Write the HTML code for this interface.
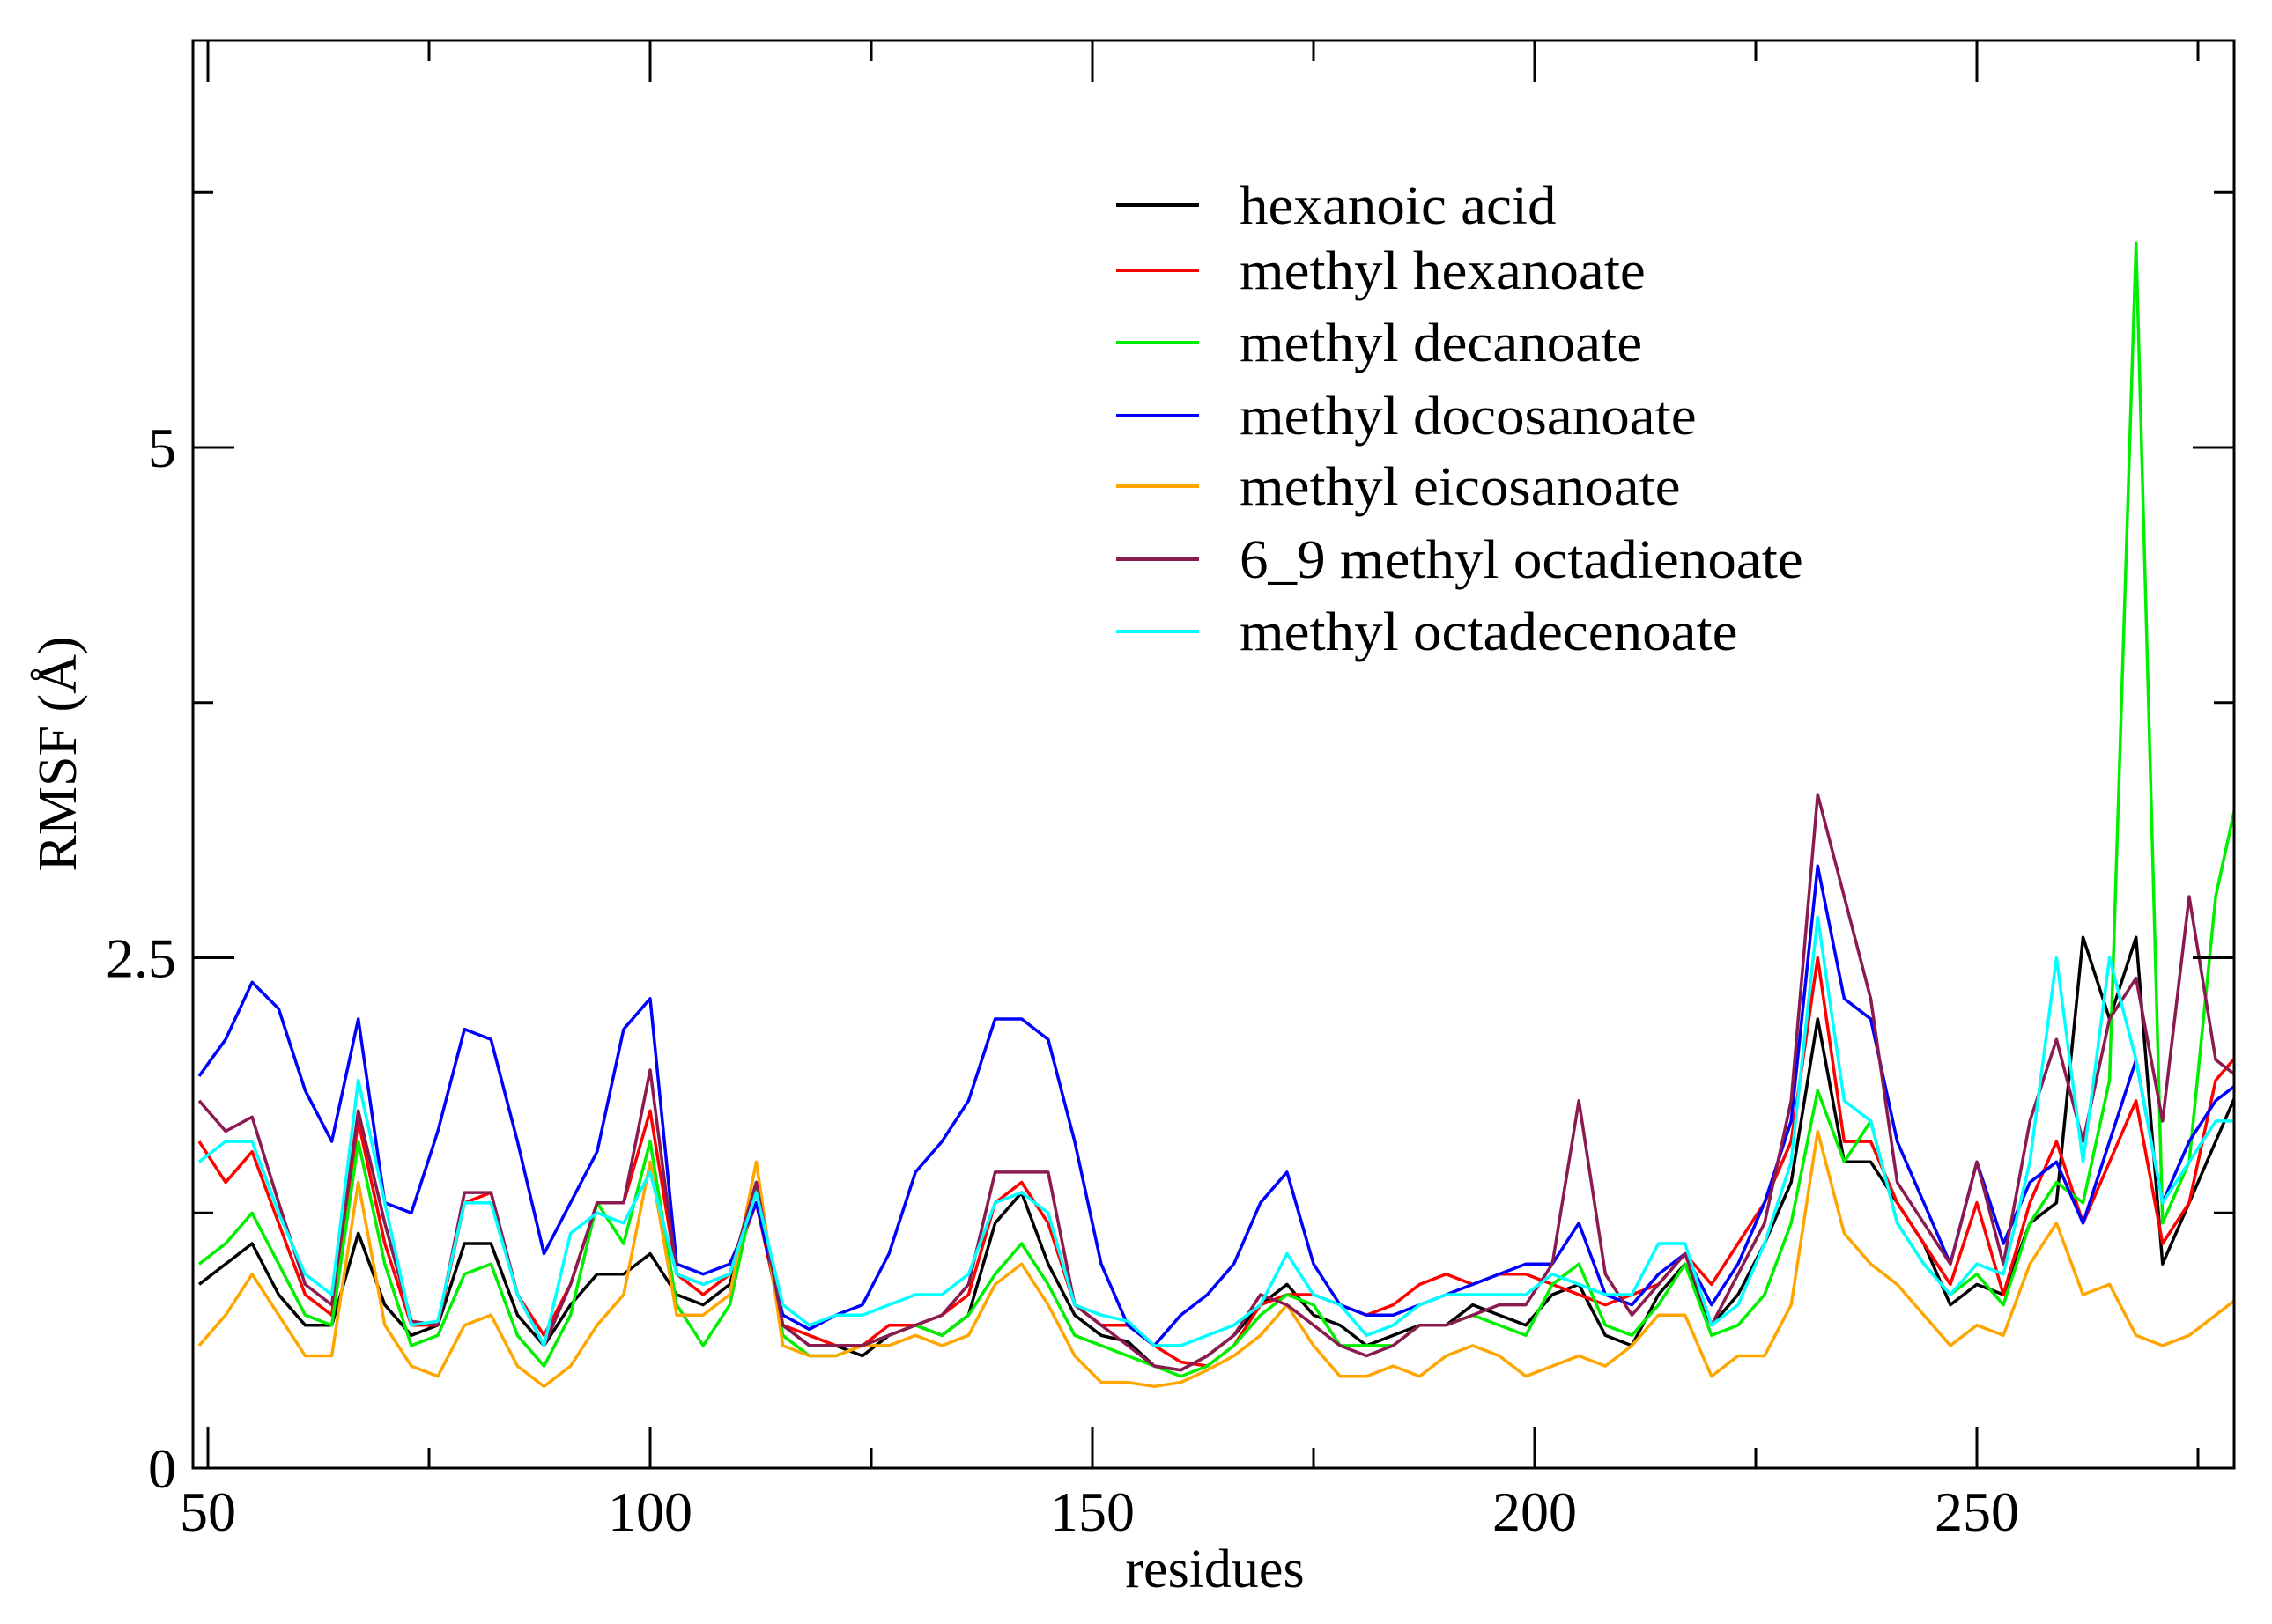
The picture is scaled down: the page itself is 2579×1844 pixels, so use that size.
<!DOCTYPE html>
<html><head><meta charset="utf-8"><style>
html,body{margin:0;padding:0;background:#fff;}
svg{display:block;font-family:"Liberation Serif",serif;}
</style></head><body>
<svg id="chart" width="2579" height="1844" viewBox="0 0 2579 1844">
<g id="series"></g>
<rect x="219" y="46" width="2317" height="1621" fill="none" stroke="#000" stroke-width="3"/>
<g id="axes"></g>
<text x="1379" y="1802" font-size="62" text-anchor="middle">residues</text>
<text transform="translate(86,856) rotate(-90)" font-size="62" text-anchor="middle">RMSF (Å)</text>
<g id="legend"></g>
</svg>
<script>
const residues=[49,52,55,58,61,64,67,70,73,76,79,82,85,88,91,94,97,100,103,106,109,112,115,118,121,124,127,130,133,136,139,142,145,148,151,154,157,160,163,166,169,172,175,178,181,184,187,190,193,196,199,202,205,208,211,214,217,220,223,226,229,232,235,238,241,244,247,250,253,256,259,262,265,268,271,274,277,280];
const hexanoic=[0.9,1.0,1.1,0.85,0.7,0.7,1.15,0.8,0.65,0.7,1.1,1.1,0.75,0.6,0.8,0.95,0.95,1.05,0.85,0.8,0.9,1.4,0.7,0.6,0.6,0.55,0.65,0.7,0.65,0.75,1.2,1.35,1.0,0.75,0.65,0.62,0.5,0.48,0.55,0.65,0.8,0.9,0.75,0.7,0.6,0.65,0.7,0.7,0.8,0.75,0.7,0.85,0.9,0.65,0.6,0.85,1.0,0.7,0.85,1.1,1.4,2.2,1.5,1.5,1.3,1.1,0.8,0.9,0.85,1.2,1.3,2.6,2.2,2.6,1.0,1.3,1.6,1.9];
const mHexanoate=[1.6,1.4,1.55,1.2,0.85,0.75,1.7,1.1,0.7,0.7,1.3,1.35,0.85,0.65,0.9,1.3,1.3,1.75,0.95,0.85,0.95,1.3,0.7,0.65,0.6,0.6,0.7,0.7,0.75,0.85,1.3,1.4,1.2,0.8,0.7,0.7,0.6,0.52,0.5,0.6,0.8,0.85,0.85,0.8,0.75,0.8,0.9,0.95,0.9,0.95,0.95,0.9,0.85,0.8,0.85,0.9,1.05,0.9,1.1,1.3,1.6,2.5,1.6,1.6,1.3,1.1,0.9,1.3,0.85,1.3,1.6,1.2,1.5,1.8,1.1,1.3,1.9,2.05];
const mDecanoate=[1.0,1.1,1.25,1.0,0.75,0.7,1.6,1.0,0.6,0.65,0.95,1.0,0.65,0.5,0.75,1.3,1.1,1.6,0.8,0.6,0.8,1.4,0.65,0.55,0.55,0.6,0.65,0.7,0.65,0.75,0.95,1.1,0.9,0.65,0.6,0.55,0.5,0.45,0.5,0.6,0.75,0.85,0.8,0.6,0.6,0.6,0.7,0.7,0.75,0.7,0.65,0.9,1.0,0.7,0.65,0.8,1.0,0.65,0.7,0.85,1.2,1.85,1.5,1.7,1.2,1.0,0.85,0.95,0.8,1.2,1.4,1.3,1.9,6.0,1.2,1.5,2.8,3.4];
const mDocosanoate=[1.92,2.1,2.38,2.25,1.85,1.6,2.2,1.3,1.25,1.65,2.15,2.1,1.6,1.05,1.3,1.55,2.15,2.3,1.0,0.95,1.0,1.3,0.75,0.68,0.75,0.8,1.05,1.45,1.6,1.8,2.2,2.2,2.1,1.6,1.0,0.7,0.6,0.75,0.85,1.0,1.3,1.45,1.0,0.8,0.75,0.75,0.8,0.85,0.9,0.95,1.0,1.0,1.2,0.85,0.8,0.95,1.05,0.8,1.0,1.3,1.7,2.95,2.3,2.2,1.6,1.3,1.0,1.5,1.1,1.4,1.5,1.2,1.6,2.0,1.3,1.6,1.8,1.9];
const mEicosanoate=[0.6,0.75,0.95,0.75,0.55,0.55,1.4,0.7,0.5,0.45,0.7,0.75,0.5,0.4,0.5,0.7,0.85,1.5,0.75,0.75,0.85,1.5,0.6,0.55,0.55,0.6,0.6,0.65,0.6,0.65,0.9,1.0,0.8,0.55,0.42,0.42,0.4,0.42,0.48,0.55,0.65,0.8,0.6,0.45,0.45,0.5,0.45,0.55,0.6,0.55,0.45,0.5,0.55,0.5,0.6,0.75,0.75,0.45,0.55,0.55,0.8,1.65,1.15,1.0,0.9,0.75,0.6,0.7,0.65,1.0,1.2,0.85,0.9,0.65,0.6,0.65,0.75,0.85];
const mOctadienoate=[1.8,1.65,1.72,1.3,0.9,0.8,1.75,1.2,0.72,0.7,1.35,1.35,0.85,0.6,0.9,1.3,1.3,1.95,0.95,0.9,0.95,1.4,0.7,0.6,0.6,0.6,0.65,0.7,0.75,0.9,1.45,1.45,1.45,0.8,0.7,0.6,0.5,0.48,0.55,0.65,0.85,0.8,0.7,0.6,0.55,0.6,0.7,0.7,0.75,0.8,0.8,1.0,1.8,0.95,0.75,0.9,1.05,0.7,0.95,1.2,1.8,3.3,2.8,2.3,1.4,1.2,1.0,1.5,1.0,1.7,2.1,1.6,2.2,2.4,1.7,2.8,2.0,1.9];
const mOctadecenoate=[1.5,1.6,1.6,1.25,0.95,0.85,1.9,1.3,0.7,0.72,1.3,1.3,0.85,0.6,1.15,1.25,1.2,1.45,0.95,0.9,0.95,1.35,0.8,0.7,0.75,0.75,0.8,0.85,0.85,0.95,1.3,1.35,1.25,0.8,0.75,0.72,0.6,0.6,0.65,0.7,0.8,1.05,0.85,0.8,0.65,0.7,0.8,0.85,0.85,0.85,0.85,0.95,0.9,0.85,0.85,1.1,1.1,0.7,0.8,1.1,1.5,2.7,1.8,1.7,1.2,1.0,0.85,1.0,0.95,1.5,2.5,1.5,2.5,2.0,1.3,1.5,1.7,1.7];
const seriesNames=["hexanoic acid","methyl hexanoate","methyl decanoate","methyl docosanoate","methyl eicosanoate","6_9 methyl octadienoate","methyl octadecenoate"];
const seriesColors=["#000000","#ff0000","#00ee00","#0000ff","#ffa500","#8b1a50","#00ffff"];
const xTicks=[50,100,150,200,250];
const xMinor=[75,125,175,225,275];
const yTicks=[0,2.5,5];
const yMinor=[1.25,3.75,6.25];

const NS="http://www.w3.org/2000/svg";
const L=219,R=2536,T=46,B=1667;
function xs(r){return 236+(r-50)*10.04;}
function ys(v){return B-v*231.8;}
function mk(tag,attrs,parent){const e=document.createElementNS(NS,tag);for(const k in attrs)e.setAttribute(k,attrs[k]);parent.appendChild(e);return e;}
const sg=document.getElementById('series');
const allSeries=[hexanoic,mHexanoate,mDecanoate,mDocosanoate,mEicosanoate,mOctadienoate,mOctadecenoate];
const clip=mk('clipPath',{id:'pc'},sg);
mk('rect',{x:L,y:T,width:R-L,height:B-T},clip);
allSeries.forEach((vals,i)=>{
  const d=vals.map((v,j)=>(j?'L':'M')+xs(residues[j]).toFixed(1)+','+ys(v).toFixed(1)).join('');
  const p=mk('path',{d:d,fill:'none',stroke:seriesColors[i],'stroke-width':3.5,'stroke-linejoin':'round','clip-path':'url(#pc)'},sg);
  
  
});
const ag=document.getElementById('axes');
xTicks.forEach(t=>{
  const x=xs(t);
  mk('line',{x1:x,y1:B,x2:x,y2:B-47,stroke:'#000','stroke-width':3},ag);
  mk('line',{x1:x,y1:T,x2:x,y2:T+47,stroke:'#000','stroke-width':3},ag);
  const tx=mk('text',{x:x,y:1738,'font-size':64,'text-anchor':'middle'},ag);
  tx.textContent=t;
  
  
});
xMinor.forEach(t=>{
  const x=xs(t);
  mk('line',{x1:x,y1:B,x2:x,y2:B-23,stroke:'#000','stroke-width':3},ag);
  mk('line',{x1:x,y1:T,x2:x,y2:T+23,stroke:'#000','stroke-width':3},ag);
});
yTicks.forEach(t=>{
  const y=ys(t);
  mk('line',{x1:L,y1:y,x2:L+47,y2:y,stroke:'#000','stroke-width':3},ag);
  mk('line',{x1:R,y1:y,x2:R-47,y2:y,stroke:'#000','stroke-width':3},ag);
  const tx=mk('text',{x:200,y:y+22,'font-size':64,'text-anchor':'end'},ag);
  tx.textContent=t;
  
  
});
yMinor.forEach(t=>{
  const y=ys(t);
  mk('line',{x1:L,y1:y,x2:L+23,y2:y,stroke:'#000','stroke-width':3},ag);
  mk('line',{x1:R,y1:y,x2:R-23,y2:y,stroke:'#000','stroke-width':3},ag);
});
const lg=document.getElementById('legend');
const legY=[233,307,389,472,552,635,717];
seriesNames.forEach((n,i)=>{
  const g=mk('g',{},lg);
  
  
  mk('line',{x1:1267,y1:legY[i],x2:1361,y2:legY[i],stroke:seriesColors[i],'stroke-width':4},g);
  const tx=mk('text',{x:0,y:0,'font-size':62,transform:'translate(1407,'+(legY[i]+21)+') scale(1.05,1)'},g);
  tx.textContent=n;
});
</script>
</body></html>
